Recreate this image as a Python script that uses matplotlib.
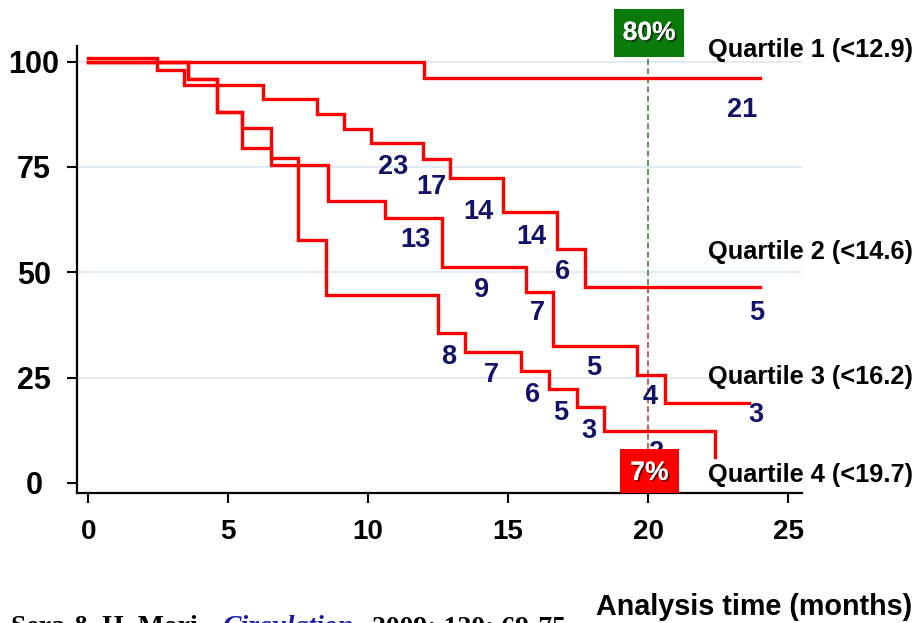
import matplotlib
matplotlib.use("Agg")
import matplotlib.pyplot as plt
import matplotlib.patheffects as pe
from matplotlib.patches import Rectangle

plt.rcParams['font.family'] = ['Liberation Sans', 'DejaVu Sans']

# Kaplan-Meier steps per quartile (time in months, % event-free)
q1_t = [0, 12.0, 24.0]
q1_s = [100, 96.0, 96.0]

q2_t = [0, 2.45, 3.43, 6.25, 8.18, 9.14, 10.1, 11.96, 12.93, 14.83, 16.76, 17.73, 24.0]
q2_s = [100.9, 97.9, 94.5, 91.1, 87.6, 84.0, 80.6, 76.9, 72.4, 64.4, 55.5, 46.5, 46.5]

q3_t = [0, 3.58, 4.6, 5.5, 6.52, 8.58, 10.6, 12.63, 15.63, 16.62, 19.62, 20.6, 23.6]
q3_s = [100, 95.9, 88.1, 79.5, 75.5, 66.8, 62.8, 51.2, 45.4, 32.4, 25.6, 18.9, 18.9]

q4_t = [0, 3.58, 4.6, 5.5, 6.52, 7.5, 8.5, 12.48, 13.46, 15.46, 16.46, 17.45, 18.44, 22.4, 22.4]
q4_s = [100, 95.9, 88.1, 84.3, 77.1, 57.7, 44.6, 35.5, 31.0, 26.6, 22.2, 17.9, 12.2, 12.2, 6.2]

curve_labels = ['Quartile 1 (<12.9)', 'Quartile 2 (<14.6)', 'Quartile 3 (<16.2)', 'Quartile 4 (<19.7)']
curve_label_y = [102.7, 54.9, 25.2, 1.9]

# numbers at risk: (x, y, text)
risk_x = [23.36,
          10.89, 12.25, 13.93, 15.82, 16.96, 23.89,
          11.68, 14.04, 16.04, 18.07, 20.07, 23.86,
          12.89, 14.39, 15.89, 16.89, 17.89, 20.3]
risk_y = [88.5,
          75.0, 70.2, 64.3, 58.3, 50.0, 40.3,
          57.6, 45.8, 40.3, 27.3, 20.4, 16.1,
          29.9, 25.6, 20.9, 16.6, 12.3, 7.1]
risk_n = ['21',
          '23', '17', '14', '14', '6', '5',
          '13', '9', '7', '5', '4', '3',
          '8', '7', '6', '5', '3', '2']

xticks = [0, 5, 10, 15, 20, 25]
yticks = [0, 25, 50, 75, 100]
cut_time = 20
top_pct = '80%'
bottom_pct = '7%'

fig = plt.figure(figsize=(9.22, 6.23), dpi=100)
ax = fig.add_axes([77 / 922, 130 / 623, 725 / 922, 447 / 623])
ax.set_xlim(-0.4, 25.5)
ax.set_ylim(-2.4, 103.7)

for g in [25, 50, 75, 100]:
    ax.axhline(g, color='#dcebf8', lw=1.3, zorder=0)

for t, s in [(q1_t, q1_s), (q2_t, q2_s), (q3_t, q3_s), (q4_t, q4_s)]:
    ax.step(t, s, where='post', color='#ff0000', lw=2.4, zorder=3,
            solid_joinstyle='miter')

# cut-off line at 20 months
ax.plot([cut_time, cut_time], [100.5, q2_s[-1]], color='#2e7d22', lw=1.1,
        ls=(0, (4, 2)), zorder=2)
ax.plot([cut_time, cut_time], [q2_s[-1], -2.4], color='#b5372a', lw=1.1,
        ls=(0, (4, 2)), zorder=2)

for x, y, n in zip(risk_x, risk_y, risk_n):
    ax.text(x, y, n, ha='center', va='center', fontsize=19.5,
            fontweight='bold', color='#12126a', zorder=4)

for lab, y in zip(curve_labels, curve_label_y):
    ax.text(22.15, y, lab, ha='left', va='center', fontsize=18.3,
            fontweight='bold', color='black', clip_on=False, zorder=5)

shadow = [pe.withSimplePatchShadow(offset=(1.2, -1.2), shadow_rgbFace='black', alpha=0.6),
          pe.Normal()]

ax.add_patch(Rectangle((18.79, 101.0), 2.5, 11.6, facecolor='#0a7a0a',
                       edgecolor='none', clip_on=False, zorder=6))
ax.text(20.04, 106.8, top_pct, ha='center', va='center', fontsize=19,
        fontweight='bold', color='white', clip_on=False, zorder=7,
        path_effects=shadow)

ax.add_patch(Rectangle((18.99, -2.4), 2.12, 10.4, facecolor='#ff0000',
                       edgecolor='none', clip_on=False, zorder=6))
ax.text(20.05, 2.4, bottom_pct, ha='center', va='center', fontsize=19,
        fontweight='bold', color='white', clip_on=False, zorder=7,
        path_effects=shadow)

for side in ['top', 'right']:
    ax.spines[side].set_visible(False)
for side in ['left', 'bottom']:
    ax.spines[side].set_linewidth(1.6)

ax.set_xticks(xticks)
ax.set_yticks(yticks)
ax.tick_params(axis='both', direction='out', length=7, width=1.5,
               labelsize=20)
ax.tick_params(axis='x', pad=12)
ax.tick_params(axis='y', pad=24, labelsize=22)
for lab in ax.get_xticklabels() + ax.get_yticklabels():
    lab.set_fontweight('bold')
for lab in ax.get_yticklabels():
    lab.set_horizontalalignment('center')

fig.text(912 / 922, 16 / 623, 'Analysis time (months)', ha='right',
         va='center', fontsize=20.7, fontweight='bold')

# source line along the lower edge
cite = dict(fontsize=20, fontweight='bold', va='baseline', family='Liberation Serif')
fig.text(205 / 922, -11 / 623, 'Sera & H. Mori.', ha='right', **cite)
fig.text(222 / 922, -11 / 623, 'Circulation', ha='left', color='#1a1aa8',
         style='italic', **cite)
fig.text(372 / 922, -11 / 623, '2009; 120: 69-75', ha='left', **cite)

fig.savefig('out.png', dpi=100)
